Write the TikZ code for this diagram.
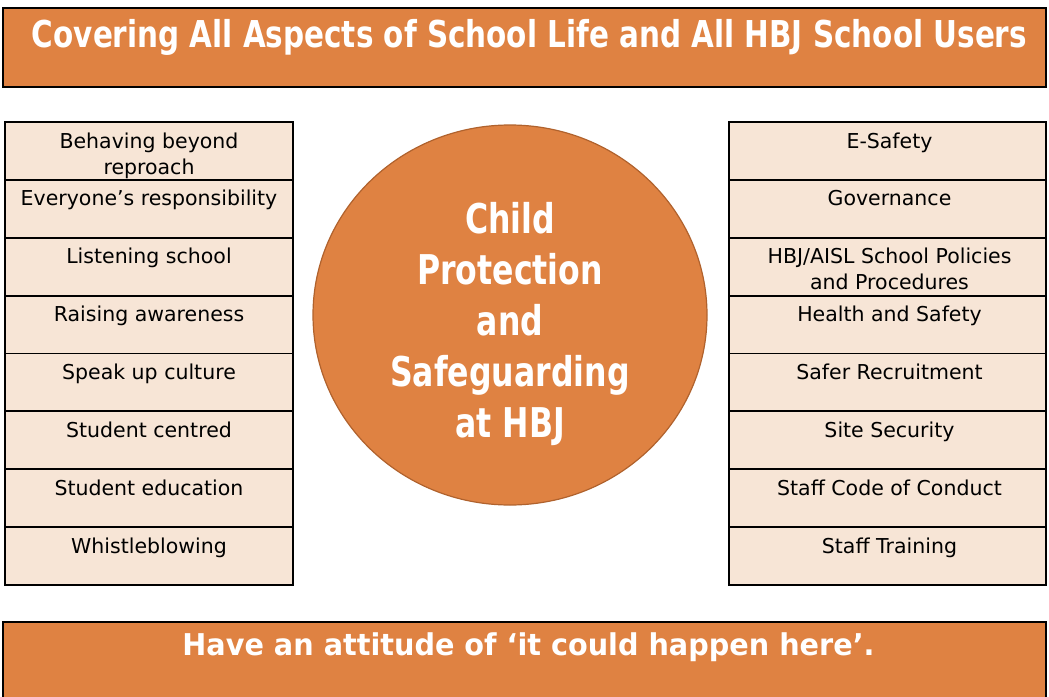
\documentclass[tikz,border=0pt]{standalone}
\usepackage{fontspec}
\setmainfont{DejaVu Sans}
\usepackage{graphicx}
\usetikzlibrary{shapes.geometric,calc}

\definecolor{hbjorange}{RGB}{223,130,66}
\definecolor{hbjedge}{RGB}{176,98,45}
\definecolor{cellfill}{RGB}{247,229,214}

% one centred column whose baseline is that of its first line
\newcommand{\stacklines}[1]{\begin{tabular}[t]{@{}c@{}}#1\end{tabular}}

\begin{document}
\begin{tikzpicture}[x=1pt,y=-1pt,
  banner/.style={draw=black, line width=2pt, fill=hbjorange,
    minimum width=1043pt, inner sep=0pt, outer sep=0pt, anchor=north west},
  bannertext/.style={text=white, inner sep=0pt, anchor=base},
  cellbox/.style={draw=black, line width=1.8pt, fill=cellfill,
    minimum width=#1, minimum height=57.875pt, inner sep=0pt, outer sep=0pt,
    anchor=north west},
  celltext/.style={text=black, inner sep=0pt, anchor=base,
    font=\fontsize{20.5}{26}\selectfont},
  hub/.style={ellipse, draw=hbjedge, line width=1.2pt, fill=hbjorange,
    minimum width=394pt, minimum height=380pt, inner sep=0pt},
  hubtext/.style={text=white, inner sep=0pt, anchor=base,
    font=\fontsize{41}{51}\selectfont\bfseries}
]
\useasboundingbox (0,0) rectangle (1049,696);
\clip (0,0) rectangle (1049,696);

% heading band
\node[banner, minimum height=79pt] (topbar) at (3,8) {};
\node[bannertext, font=\fontsize{37}{44}\selectfont\bfseries] (toptitle) at (529.5,47)
  {\resizebox{995pt}{\height}{Covering All Aspects of School Life and All HBJ School Users}};

% left column of values
\foreach \txt [count=\i] in {
  {Behaving beyond\\reproach},
  {Everyone’s responsibility},
  {Listening school},
  {Raising awareness},
  {Speak up culture},
  {Student centred},
  {Student education},
  {Whistleblowing}} {
  \node[cellbox=288pt] (L\i) at (5,{122+(\i-1)*57.875}) {};
  \node[celltext] (Lt\i) at ($(L\i.north)+(0,26)$) {\stacklines{\txt}};
}

% right column of areas
\foreach \txt [count=\i] in {
  {E-Safety},
  {Governance},
  {HBJ/AISL School Policies\\and Procedures},
  {Health and Safety},
  {Safer Recruitment},
  {Site Security},
  {Staff Code of Conduct},
  {Staff Training}} {
  \node[cellbox=317pt] (R\i) at (729,{122+(\i-1)*57.875}) {};
  \node[celltext] (Rt\i) at ($(R\i.north)+(2,26)$) {\stacklines{\txt}};
}

% central circle
\node[hub] (core) at (510,315) {};
\node[hubtext] (coretext) at (510,233)
  {\scalebox{0.77}[1]{\stacklines{Child\\Protection\\and\\Safeguarding\\at HBJ}}};

% closing band
\node[banner, minimum height=90pt] (bottombar) at (3,622) {};
\node[bannertext, font=\fontsize{30}{36}\selectfont\bfseries] (bottomtitle) at (528.5,655)
  {\resizebox{692pt}{\height}{Have an attitude of ‘it could happen here’.}};
\end{tikzpicture}
\end{document}
